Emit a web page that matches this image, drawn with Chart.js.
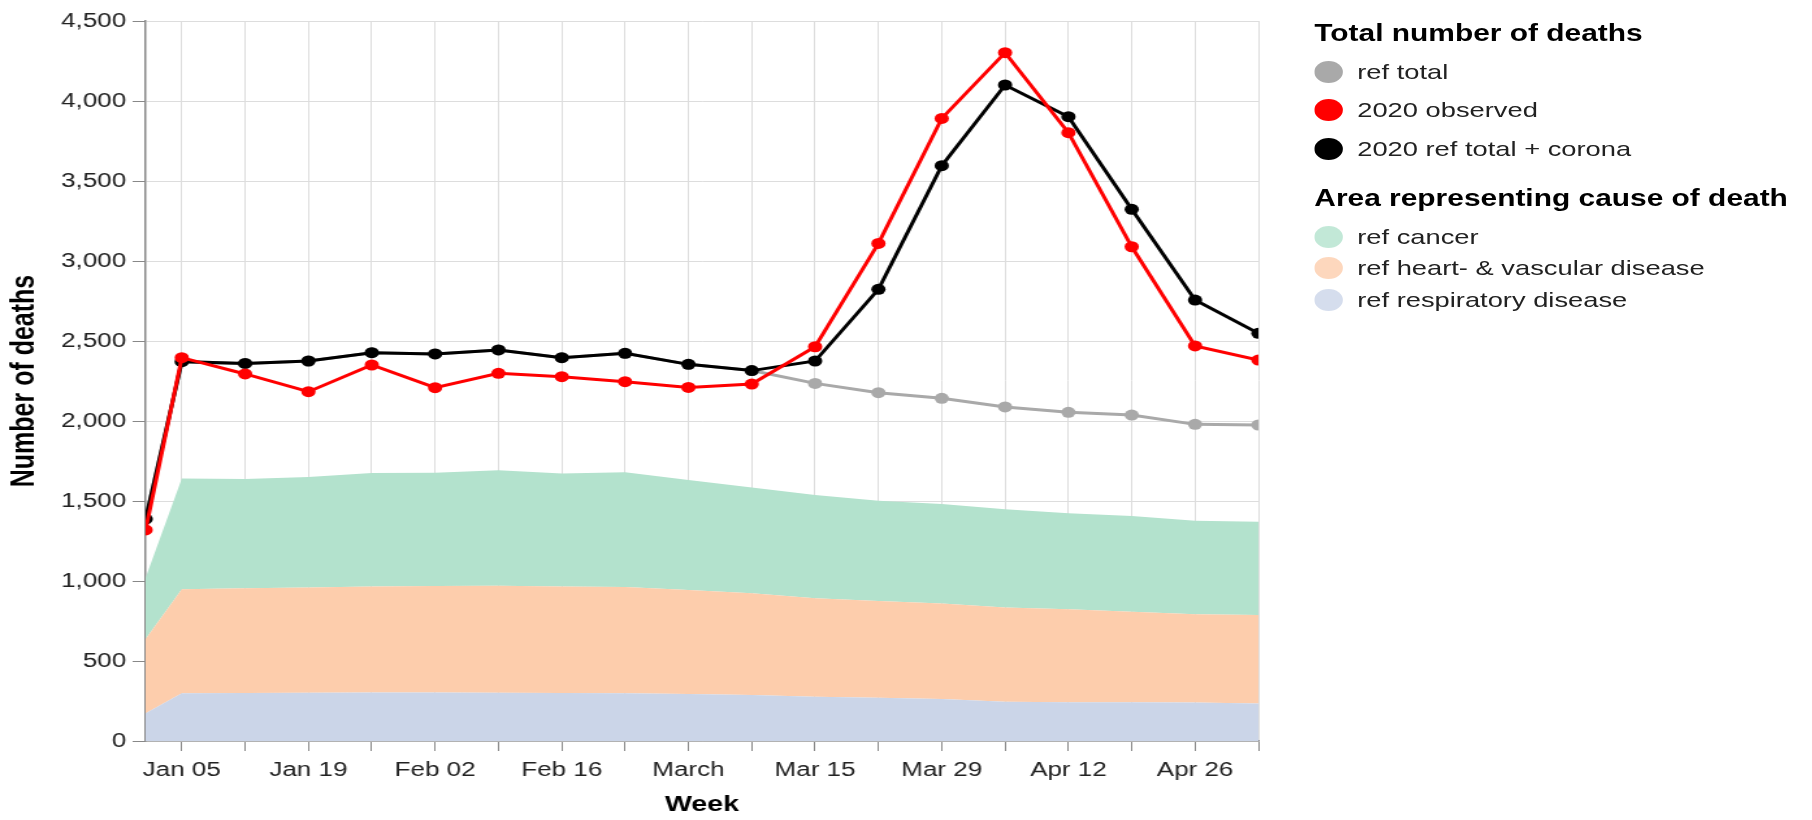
<!DOCTYPE html>
<html>
<head>
<meta charset="utf-8">
<title>Number of deaths per week, 2020</title>
<script src="https://cdn.jsdelivr.net/npm/chart.js@4.4.1/dist/chart.umd.min.js"></script>
<style>
    html, body {
        margin: 0;
        padding: 0;
        background: #fff;
        overflow: hidden;
    }

    /* the reference is a little wider than tall, so the stage is stretched */
    #stage {
        position: absolute;
        left: 0;
        top: 0;
        width: 1394px;
        height: 820px;
        transform: scaleX(1.3);
        transform-origin: 0 0;
        font-family: "Liberation Sans", Arial, sans-serif;
    }

    #chart {
        position: absolute;
        left: 0;
        top: 0;
    }

    .legend-title {
        position: absolute;
        left: 1011px;
        font-weight: bold;
        font-size: 23px;
        line-height: 28px;
        color: #000;
        white-space: nowrap;
    }

    .legend-item {
        position: absolute;
        left: 1011px;
        height: 28px;
        line-height: 28px;
        font-size: 21px;
        color: #222;
        white-space: nowrap;
        padding-left: 33px;
    }

    .legend-item .dot {
        position: absolute;
        left: 0;
        top: 3px;
        width: 22px;
        height: 22px;
        border-radius: 50%;
    }
</style>
</head>
<body>
<div id="stage">
    <canvas id="chart" width="1394" height="820"></canvas>
    <div id="legend"></div>
</div>

<script>
//==================
//=====DATA=========
//==================

// day of the year each week is plotted at (0 = Jan 1 2020)
const weekDays = [0, 4, 11, 18, 25, 32, 39, 46, 53, 60, 67, 74, 81, 88, 95, 102, 109, 116, 123];

const observed2020 = [1319, 2396, 2294, 2183, 2350, 2208, 2298, 2277, 2246, 2210, 2231, 2464, 3110, 3891, 4302, 3802, 3089, 2469, 2381];
const refTotalCorona = [1387, 2371, 2360, 2375, 2427, 2419, 2444, 2396, 2423, 2354, 2315, 2375, 2823, 3596, 4100, 3902, 3323, 2756, 2548];
const refTotal = [1387, 2371, 2360, 2375, 2427, 2419, 2444, 2396, 2423, 2354, 2315, 2235, 2177, 2142, 2088, 2054, 2037, 1979, 1975];

// causes of death (stacked areas)
const refRespiratory = [173, 298, 300, 302, 303, 303, 302, 300, 298, 294, 287, 277, 271, 262, 246, 242, 242, 240, 235];
const refHeart = [465, 650, 655, 658, 662, 665, 668, 665, 664, 650, 636, 615, 604, 598, 589, 581, 566, 552, 553];
const refCancer = [382, 693, 683, 690, 710, 708, 722, 707, 717, 687, 662, 645, 627, 621, 613, 600, 598, 585, 583];

// x axis: a tick every Sunday, a label every second one
const tickDays = [4, 11, 18, 25, 32, 39, 46, 53, 60, 67, 74, 81, 88, 95, 102, 109, 116, 123];
const tickLabels = ['Jan 05', '', 'Jan 19', '', 'Feb 02', '', 'Feb 16', '', 'March', '', 'Mar 15', '', 'Mar 29', '', 'Apr 12', '', 'Apr 26', ''];

const yMax = 4500;
const yStep = 500;

//==================
//=====COLORS=======
//==================

const colors = {
    refTotal: '#a9a9a9',
    observed: '#ff0000',
    corona: '#000000',
    cancer: '#b3e2cd',
    heart: '#fdcdac',
    respiratory: '#cbd5e8'
};

document.addEventListener('DOMContentLoaded', () => {
    createGraph();
    createLegend();
});

function toPoints(values) {
    return weekDays.map((day, i) => ({ x: day, y: values[i] }));
}

function lineSet(label, values, color, stack) {
    return {
        label: label,
        data: toPoints(values),
        stack: stack,
        borderColor: color,
        backgroundColor: color,
        borderWidth: 3,
        pointRadius: 5.5,
        pointHoverRadius: 5.5,
        pointBorderWidth: 0,
        pointBackgroundColor: color,
        fill: false,
        tension: 0
    };
}

function areaSet(label, values, color, fill) {
    return {
        label: label,
        data: toPoints(values),
        stack: 'causes',
        borderColor: 'rgba(0,0,0,0)',
        backgroundColor: color,
        borderWidth: 0,
        pointRadius: 0,
        pointHoverRadius: 0,
        fill: fill,
        tension: 0
    };
}

//==================
//=====GRAPH========
//==================

function createGraph() {
    Chart.defaults.font.family = '"Liberation Sans", Arial, sans-serif';

    const ctx = document.getElementById('chart');

    new Chart(ctx, {
        type: 'line',
        data: {
            datasets: [
                lineSet('2020 observed', observed2020, colors.observed, 'observed'),
                lineSet('2020 ref total + corona', refTotalCorona, colors.corona, 'corona'),
                lineSet('ref total', refTotal, colors.refTotal, 'total'),
                areaSet('ref respiratory disease', refRespiratory, colors.respiratory, 'origin'),
                areaSet('ref heart- & vascular disease', refHeart, colors.heart, '-1'),
                areaSet('ref cancer', refCancer, colors.cancer, '-1')
            ]
        },
        options: {
            responsive: false,
            animation: false,
            devicePixelRatio: 1,
            events: [],
            layout: {
                padding: { left: 0, right: 426, top: 21, bottom: 0 }
            },
            plugins: {
                legend: { display: false },
                tooltip: { enabled: false }
            },
            scales: {
                x: {
                    type: 'linear',
                    min: weekDays[0],
                    max: weekDays[weekDays.length - 1],
                    afterBuildTicks: (scale) => {
                        scale.ticks = tickDays.map(day => ({ value: day }));
                    },
                    afterFit: (scale) => {
                        scale.height = 79;
                    },
                    ticks: {
                        autoSkip: false,
                        maxRotation: 0,
                        padding: 7,
                        color: '#222',
                        font: { size: 20 },
                        callback: (value, index) => tickLabels[index]
                    },
                    grid: {
                        color: '#dddddd',
                        tickColor: '#888888',
                        tickLength: 10
                    },
                    border: { color: '#888888', width: 1.5 },
                    title: {
                        display: true,
                        text: 'Week',
                        color: '#000',
                        font: { size: 22, weight: 'bold' },
                        padding: { top: 0, bottom: 2 }
                    }
                },
                y: {
                    stacked: true,
                    min: 0,
                    max: yMax,
                    afterFit: (scale) => {
                        scale.width = 112;
                    },
                    ticks: {
                        stepSize: yStep,
                        padding: 5,
                        color: '#222',
                        font: { size: 20 },
                        callback: (value) => value.toLocaleString('en-US')
                    },
                    grid: {
                        color: '#dddddd',
                        tickColor: '#888888',
                        tickLength: 10
                    },
                    border: { color: '#888888', width: 1.5 },
                    title: {
                        display: true,
                        text: 'Number of deaths',
                        color: '#000',
                        font: { size: 25, weight: 'bold' },
                        padding: { top: 4, bottom: 0 }
                    }
                }
            }
        }
    });
}

//==================
//=====LEGEND=======
//==================

function createLegend() {
    const legend = document.getElementById('legend');

    const groups = [
        {
            title: 'Total number of deaths',
            titleY: 33,
            rows: [
                { text: 'ref total', color: colors.refTotal, y: 72, opacity: 1 },
                { text: '2020 observed', color: colors.observed, y: 110, opacity: 1 },
                { text: '2020 ref total + corona', color: colors.corona, y: 149, opacity: 1 }
            ]
        },
        {
            title: 'Area representing cause of death',
            titleY: 198,
            rows: [
                { text: 'ref cancer', color: colors.cancer, y: 237, opacity: 0.8 },
                { text: 'ref heart- & vascular disease', color: colors.heart, y: 268, opacity: 0.8 },
                { text: 'ref respiratory disease', color: colors.respiratory, y: 300, opacity: 0.8 }
            ]
        }
    ];

    groups.forEach(group => {
        const title = document.createElement('div');
        title.classList.add('legend-title');
        title.textContent = group.title;
        title.style.top = `${group.titleY - 14}px`;
        legend.appendChild(title);

        group.rows.forEach(row => {
            const item = document.createElement('div');
            const dot = document.createElement('span');
            item.classList.add('legend-item');
            dot.classList.add('dot');
            dot.style.background = row.color;
            dot.style.opacity = row.opacity;
            item.style.top = `${row.y - 14}px`;
            item.appendChild(dot);
            item.appendChild(document.createTextNode(row.text));
            legend.appendChild(item);
        });
    });
}
</script>
</body>
</html>
